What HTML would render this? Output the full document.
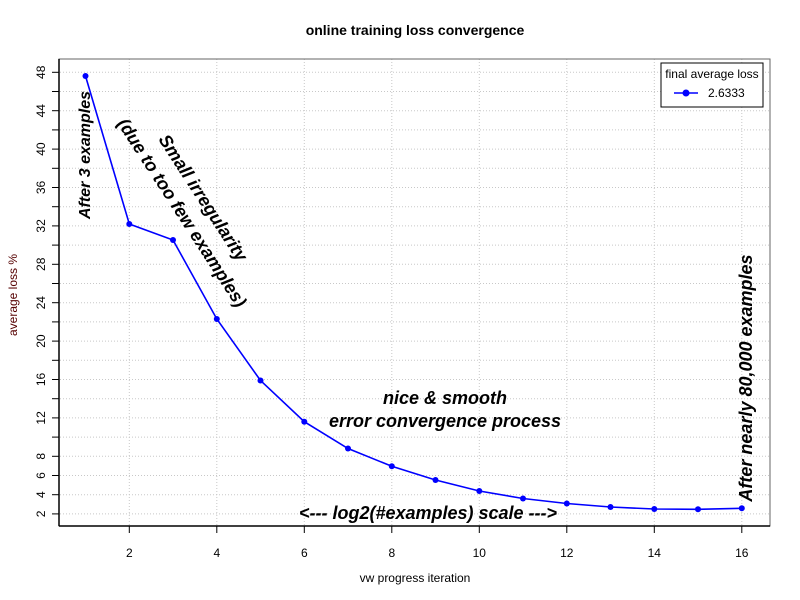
<!DOCTYPE html>
<html><head><meta charset="utf-8"><style>html,body{margin:0;padding:0;background:#fff}svg{display:block}</style></head>
<body>
<svg width="800" height="600" viewBox="0 0 800 600" xmlns="http://www.w3.org/2000/svg" font-family="Liberation Sans, DejaVu Sans, sans-serif">
<rect width="800" height="600" fill="#fff"/>
<g stroke="#c8c8c8" stroke-width="1" stroke-dasharray="1,2">
<line x1="60" x2="770" y1="513.9" y2="513.9"/><line x1="60" x2="770" y1="494.7" y2="494.7"/><line x1="60" x2="770" y1="475.5" y2="475.5"/><line x1="60" x2="770" y1="456.3" y2="456.3"/><line x1="60" x2="770" y1="437.1" y2="437.1"/><line x1="60" x2="770" y1="417.9" y2="417.9"/><line x1="60" x2="770" y1="398.7" y2="398.7"/><line x1="60" x2="770" y1="379.5" y2="379.5"/><line x1="60" x2="770" y1="360.3" y2="360.3"/><line x1="60" x2="770" y1="341.1" y2="341.1"/><line x1="60" x2="770" y1="321.9" y2="321.9"/><line x1="60" x2="770" y1="302.7" y2="302.7"/><line x1="60" x2="770" y1="283.5" y2="283.5"/><line x1="60" x2="770" y1="264.3" y2="264.3"/><line x1="60" x2="770" y1="245.1" y2="245.1"/><line x1="60" x2="770" y1="225.9" y2="225.9"/><line x1="60" x2="770" y1="206.7" y2="206.7"/><line x1="60" x2="770" y1="187.5" y2="187.5"/><line x1="60" x2="770" y1="168.3" y2="168.3"/><line x1="60" x2="770" y1="149.1" y2="149.1"/><line x1="60" x2="770" y1="129.9" y2="129.9"/><line x1="60" x2="770" y1="110.7" y2="110.7"/><line x1="60" x2="770" y1="91.5" y2="91.5"/><line x1="60" x2="770" y1="72.3" y2="72.3"/>
<line x1="129.3" x2="129.3" y1="59" y2="526"/><line x1="216.8" x2="216.8" y1="59" y2="526"/><line x1="304.3" x2="304.3" y1="59" y2="526"/><line x1="391.8" x2="391.8" y1="59" y2="526"/><line x1="479.3" x2="479.3" y1="59" y2="526"/><line x1="566.8" x2="566.8" y1="59" y2="526"/><line x1="654.3" x2="654.3" y1="59" y2="526"/><line x1="741.8" x2="741.8" y1="59" y2="526"/>
</g>
<rect x="59" y="59" width="711" height="467" fill="none" stroke="#666" stroke-width="1"/>
<line x1="59" y1="59" x2="59" y2="526" stroke="#000" stroke-width="1.5"/>
<line x1="59" y1="526" x2="770" y2="526" stroke="#000" stroke-width="1.5"/>
<g stroke="#000" stroke-width="1">
<line x1="52" x2="59" y1="513.9" y2="513.9"/><line x1="52" x2="59" y1="494.7" y2="494.7"/><line x1="52" x2="59" y1="475.5" y2="475.5"/><line x1="52" x2="59" y1="456.3" y2="456.3"/><line x1="52" x2="59" y1="437.1" y2="437.1"/><line x1="52" x2="59" y1="417.9" y2="417.9"/><line x1="52" x2="59" y1="398.7" y2="398.7"/><line x1="52" x2="59" y1="379.5" y2="379.5"/><line x1="52" x2="59" y1="360.3" y2="360.3"/><line x1="52" x2="59" y1="341.1" y2="341.1"/><line x1="52" x2="59" y1="321.9" y2="321.9"/><line x1="52" x2="59" y1="302.7" y2="302.7"/><line x1="52" x2="59" y1="283.5" y2="283.5"/><line x1="52" x2="59" y1="264.3" y2="264.3"/><line x1="52" x2="59" y1="245.1" y2="245.1"/><line x1="52" x2="59" y1="225.9" y2="225.9"/><line x1="52" x2="59" y1="206.7" y2="206.7"/><line x1="52" x2="59" y1="187.5" y2="187.5"/><line x1="52" x2="59" y1="168.3" y2="168.3"/><line x1="52" x2="59" y1="149.1" y2="149.1"/><line x1="52" x2="59" y1="129.9" y2="129.9"/><line x1="52" x2="59" y1="110.7" y2="110.7"/><line x1="52" x2="59" y1="91.5" y2="91.5"/><line x1="52" x2="59" y1="72.3" y2="72.3"/>
<line x1="129.3" x2="129.3" y1="526" y2="533"/><line x1="216.8" x2="216.8" y1="526" y2="533"/><line x1="304.3" x2="304.3" y1="526" y2="533"/><line x1="391.8" x2="391.8" y1="526" y2="533"/><line x1="479.3" x2="479.3" y1="526" y2="533"/><line x1="566.8" x2="566.8" y1="526" y2="533"/><line x1="654.3" x2="654.3" y1="526" y2="533"/><line x1="741.8" x2="741.8" y1="526" y2="533"/>
</g>
<g font-size="12" fill="#000" text-anchor="middle">
<text transform="translate(45,513.9) rotate(-90)">2</text>
<text transform="translate(45,494.7) rotate(-90)">4</text>
<text transform="translate(45,475.5) rotate(-90)">6</text>
<text transform="translate(45,456.3) rotate(-90)">8</text>
<text transform="translate(45,417.9) rotate(-90)">12</text>
<text transform="translate(45,379.5) rotate(-90)">16</text>
<text transform="translate(45,341.1) rotate(-90)">20</text>
<text transform="translate(45,302.7) rotate(-90)">24</text>
<text transform="translate(45,264.3) rotate(-90)">28</text>
<text transform="translate(45,225.9) rotate(-90)">32</text>
<text transform="translate(45,187.5) rotate(-90)">36</text>
<text transform="translate(45,149.1) rotate(-90)">40</text>
<text transform="translate(45,110.7) rotate(-90)">44</text>
<text transform="translate(45,72.3) rotate(-90)">48</text>
<text x="129.3" y="557">2</text><text x="216.8" y="557">4</text><text x="304.3" y="557">6</text><text x="391.8" y="557">8</text><text x="479.3" y="557">10</text><text x="566.8" y="557">12</text><text x="654.3" y="557">14</text><text x="741.8" y="557">16</text>
</g>
<text x="415" y="35" font-size="14" font-weight="bold" text-anchor="middle">online training loss convergence</text>
<text x="415" y="582" font-size="12" text-anchor="middle">vw progress iteration</text>
<text transform="translate(17,295) rotate(-90)" font-size="12" text-anchor="middle" fill="#500">average loss %</text>
<polyline fill="none" stroke="#0000ff" stroke-width="1.6" points="85.5,76 129.3,224 173,240 216.8,319 260.5,380.5 304.3,421.7 348,448.5 391.8,466.3 435.5,480 479.3,491 523,498.5 566.8,503.5 610.5,507 654.3,509 698,509.3 741.8,508.3"/>
<g fill="#0000ff">
<circle cx="85.5" cy="76" r="3"/><circle cx="129.3" cy="224" r="3"/><circle cx="173" cy="240" r="3"/><circle cx="216.8" cy="319" r="3"/><circle cx="260.5" cy="380.5" r="3"/><circle cx="304.3" cy="421.7" r="3"/><circle cx="348" cy="448.5" r="3"/><circle cx="391.8" cy="466.3" r="3"/><circle cx="435.5" cy="480" r="3"/><circle cx="479.3" cy="491" r="3"/><circle cx="523" cy="498.5" r="3"/><circle cx="566.8" cy="503.5" r="3"/><circle cx="610.5" cy="507" r="3"/><circle cx="654.3" cy="509" r="3"/><circle cx="698" cy="509.3" r="3"/><circle cx="741.8" cy="508.3" r="3"/>
</g>
<g font-size="18" font-weight="bold" font-style="italic" text-anchor="middle" fill="#000">
<text transform="translate(90,155) rotate(-90)" font-size="16">After 3 examples</text>
<text transform="translate(198,201) rotate(57)">Small irregularity</text>
<text transform="translate(177,216) rotate(57)">(due to too few examples)</text>
<text x="445" y="404">nice &amp; smooth</text>
<text x="445" y="427">error convergence process</text>
<text x="428" y="519">&lt;--- log2(#examples) scale ---&gt;</text>
<text transform="translate(752,378) rotate(-90)">After nearly 80,000 examples</text>
</g>
<rect x="661" y="63" width="102" height="44" fill="#fff" stroke="#000" stroke-width="1"/>
<text x="712" y="78" font-size="12" text-anchor="middle">final average loss</text>
<line x1="674" x2="698" y1="93" y2="93" stroke="#0000ff" stroke-width="1.6"/>
<circle cx="686" cy="93" r="3.5" fill="#0000ff"/>
<text x="708" y="97" font-size="12">2.6333</text>
</svg>
</body></html>
